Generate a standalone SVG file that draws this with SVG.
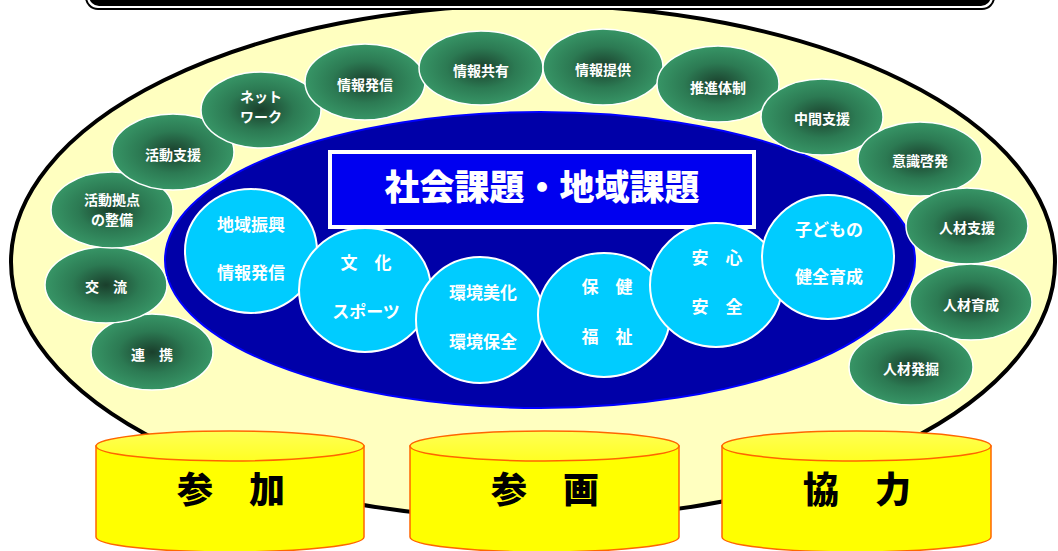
<svg xmlns="http://www.w3.org/2000/svg" width="1058" height="551" viewBox="0 0 1058 551">
<defs>
<radialGradient id="gg" cx="50%" cy="50%" r="50%">
<stop offset="0%" stop-color="#1a3f2c"/>
<stop offset="55%" stop-color="#2c7a53"/>
<stop offset="100%" stop-color="#379566"/>
</radialGradient>
<linearGradient id="cylTop" x1="0" y1="0" x2="0" y2="1">
<stop offset="0%" stop-color="#ffff55"/>
<stop offset="100%" stop-color="#ffff22"/>
</linearGradient>
</defs>
<style>
.g{fill:url(#gg);stroke:#ffffff;stroke-width:1.5}
.gt{font-family:"Noto Sans CJK JP","Noto Sans",sans-serif;font-weight:700;font-size:14px;fill:#ffffff;text-anchor:middle}
.c{fill:#00ccff;stroke:#ffffff;stroke-width:2}
.ct{font-family:"Noto Sans CJK JP","Noto Sans",sans-serif;font-weight:700;font-size:17px;fill:#ffffff;text-anchor:middle}
.cyl{fill:#ffff00;stroke:#ff6600;stroke-width:1.5}
.cylt{fill:url(#cylTop);stroke:#ff6600;stroke-width:1.5}
.yt{font-family:"Noto Sans CJK JP","Noto Sans",sans-serif;font-weight:900;font-size:36px;fill:#000000;text-anchor:middle}
</style>
<rect width="1058" height="551" fill="#ffffff"/>
<g id="outer">
<ellipse cx="533" cy="262" rx="522" ry="257" fill="#ffffc0" stroke="#000000" stroke-width="4"/>
</g>
<g id="topbox">
<rect x="86" y="-40" width="908" height="49" rx="12" fill="#ffffff" stroke="#000000" stroke-width="2"/>
<rect x="89" y="-40" width="902" height="46" rx="10" fill="#000000"/>
</g>
<g id="core">
<ellipse cx="540" cy="260" rx="375" ry="148" fill="#0000a8" stroke="#0000ff" stroke-width="2"/>
</g>
<g id="title">
<rect x="330" y="152" width="424" height="75" fill="#0000f0" stroke="#ffffff" stroke-width="4"/>
<text x="542" y="200" font-family="'Noto Sans CJK JP','Noto Sans',sans-serif" font-weight="900" font-size="35" fill="#ffffff" text-anchor="middle">社会課題・地域課題</text>
</g>
<g id="connectors"></g>
<g id="c1"><ellipse class="c" cx="251" cy="251" rx="66" ry="62"/><text class="ct" x="251" y="231">地域振興</text><text class="ct" x="251" y="279">情報発信</text></g>
<g id="c2"><ellipse class="c" cx="365" cy="290" rx="66" ry="62"/><text class="ct" x="366" y="269">文　化</text><text class="ct" x="366" y="318">スポーツ</text></g>
<g id="c3"><ellipse class="c" cx="480" cy="320" rx="64" ry="63"/><text class="ct" x="483" y="299">環境美化</text><text class="ct" x="483" y="348">環境保全</text></g>
<g id="c4"><ellipse class="c" cx="604" cy="315" rx="66" ry="62"/><text class="ct" x="607" y="293">保　健</text><text class="ct" x="607" y="343">福　祉</text></g>
<g id="c5"><ellipse class="c" cx="716" cy="285" rx="66" ry="62"/><text class="ct" x="717" y="264">安　心</text><text class="ct" x="717" y="313">安　全</text></g>
<g id="c6"><ellipse class="c" cx="828" cy="257" rx="66" ry="62"/><text class="ct" x="829" y="236">子どもの</text><text class="ct" x="829" y="283">健全育成</text></g>
<g id="g-renkei"><ellipse class="g" cx="152" cy="352" rx="61" ry="38"/><text class="gt" x="152" y="360">連　携</text></g>
<g id="g-koryu"><ellipse class="g" cx="106" cy="285" rx="61" ry="38"/><text class="gt" x="106" y="292">交　流</text></g>
<g id="g-kyoten"><ellipse class="g" cx="112" cy="210" rx="61" ry="38"/><text class="gt" x="112" y="205">活動拠点</text><text class="gt" x="112" y="225">の整備</text></g>
<g id="g-katsudo"><ellipse class="g" cx="173" cy="152" rx="61" ry="38"/><text class="gt" x="173" y="160">活動支援</text></g>
<g id="g-network"><ellipse class="g" cx="261" cy="110" rx="60" ry="38"/><text class="gt" x="261" y="102">ネット</text><text class="gt" x="261" y="122">ワーク</text></g>
<g id="g-hasshin"><ellipse class="g" cx="365" cy="82" rx="60" ry="38"/><text class="gt" x="365" y="90">情報発信</text></g>
<g id="g-kyoyu"><ellipse class="g" cx="481" cy="68" rx="62" ry="37"/><text class="gt" x="481" y="76">情報共有</text></g>
<g id="g-teikyo"><ellipse class="g" cx="603" cy="67" rx="60" ry="38"/><text class="gt" x="603" y="75">情報提供</text></g>
<g id="g-suishin"><ellipse class="g" cx="718" cy="84" rx="61" ry="38"/><text class="gt" x="718" y="93">推進体制</text></g>
<g id="g-chukan"><ellipse class="g" cx="822" cy="117" rx="61" ry="38"/><text class="gt" x="822" y="124">中間支援</text></g>
<g id="g-ishiki"><ellipse class="g" cx="920" cy="159" rx="62" ry="37"/><text class="gt" x="920" y="166">意識啓発</text></g>
<g id="g-shien"><ellipse class="g" cx="967" cy="226" rx="61" ry="38"/><text class="gt" x="967" y="233">人材支援</text></g>
<g id="g-ikusei"><ellipse class="g" cx="971" cy="302" rx="61" ry="38"/><text class="gt" x="971" y="310">人材育成</text></g>
<g id="g-hakkutsu"><ellipse class="g" cx="911" cy="367" rx="62" ry="38"/><text class="gt" x="911" y="374">人材発掘</text></g>
<g id="cyl1"><path class="cyl" d="M96,446 L96,537 A134,15 0 0 0 364,537 L364,446 Z"/><ellipse class="cylt" cx="230" cy="446" rx="134" ry="15"/><text class="yt" x="231" y="503">参　加</text></g>
<g id="cyl2"><path class="cyl" d="M410,446 L410,537 A134.5,15 0 0 0 679,537 L679,446 Z"/><ellipse class="cylt" cx="544.5" cy="446" rx="134.5" ry="15"/><text class="yt" x="545" y="503">参　画</text></g>
<g id="cyl3"><path class="cyl" d="M722,446 L722,537 A134.5,15 0 0 0 991,537 L991,446 Z"/><ellipse class="cylt" cx="856.5" cy="446" rx="134.5" ry="15"/><text class="yt" x="857" y="503">協　力</text></g>
</svg>
